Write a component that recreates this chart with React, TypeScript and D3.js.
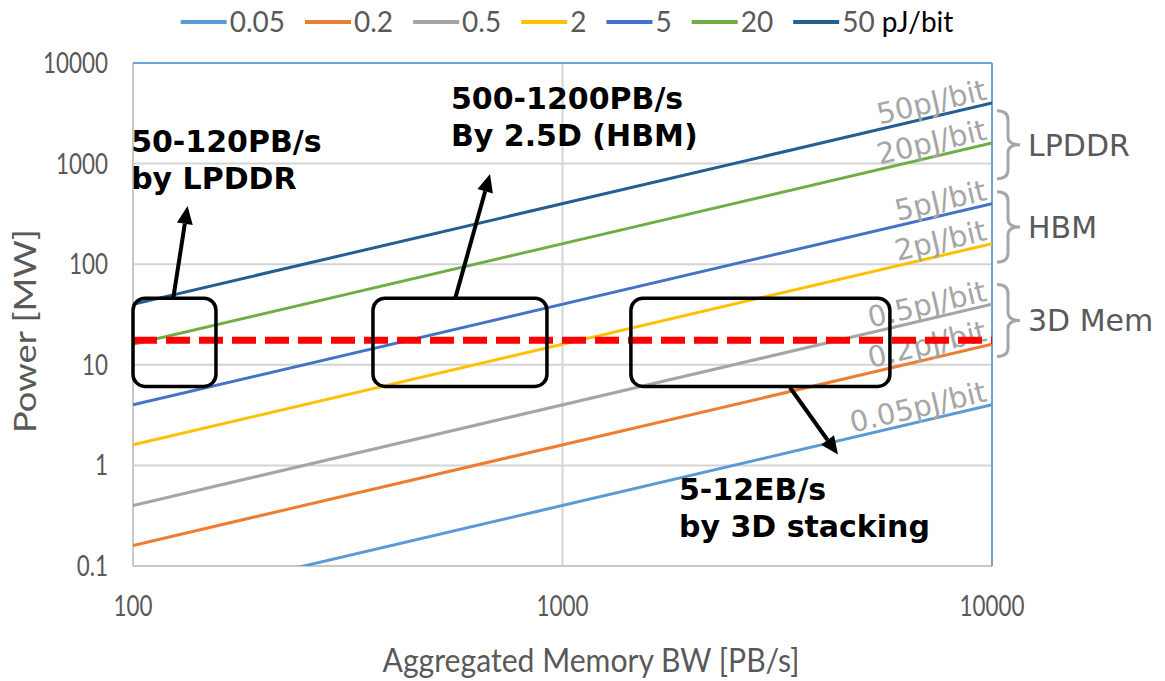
import { useEffect, useRef } from 'react'
import * as d3 from 'd3'

const W = 1165
const H = 681

// energy per bit series, power [MW] read at both ends of the BW axis
const bwEnds = [100, 10000]
const seriesNames = ['0.05', '0.2', '0.5', '2', '5', '20', '50']
const seriesColors = ['#5b9bd5', '#ed7d31', '#a5a5a5', '#ffc000', '#4472c4', '#70ad47', '#255e91']
const powerAtStart = [0.04, 0.16, 0.4, 1.6, 4, 16, 40]
const powerAtEnd = [4, 16, 40, 160, 400, 1600, 4000]
const lineLabels = ['0.05pJ/bit', '0.2pJ/bit', '0.5pJ/bit', '2pJ/bit', '5pJ/bit', '20pJ/bit', '50pJ/bit']

const xTicks = [100, 1000, 10000]
const yTicks = [0.1, 1, 10, 100, 1000, 10000]
const powerBudget = 17.5

// highlighted regions
const boxBW0 = [100, 362, 1443]
const boxBW1 = [156, 920, 5785]
const boxP0 = [6.1, 6.1, 6.1]
const boxP1 = [46, 46, 46]

const arrowFromBW = [124, 562, 3386]
const arrowFromP = [45, 45, 5.95]
const arrowToBW = [134, 678, 4380]
const arrowToP = [379, 790, 1.28]

const noteLines = [['50-120PB/s', 'by LPDDR'], ['500-1200PB/s', 'By 2.5D (HBM)'], ['5-12EB/s', 'by 3D stacking']]
const noteBW = [99, 550, 1867]
const noteP = [1312, 3516, 0.455]

const groupNames = ['LPDDR', 'HBM', '3D Mem']
const groupTop = [3357, 524, 63]
const groupBottom = [705, 105, 12.1]

const HUMAN = "Lato, 'Open Sans', sans-serif"
const MEIRYO = "'DejaVu Sans', Verdana, sans-serif"
const GRAY = '#595959'

export default function App() {
    const svgRef = useRef<SVGSVGElement>(null)

    useEffect(() => {
        const svg = d3.select(svgRef.current)
        svg.selectAll('*').remove()

        const x = d3.scaleLog().domain([100, 10000]).range([133, 992])
        const y = d3.scaleLog().domain([0.1, 10000]).range([566, 63])

        svg.append('rect').attr('width', W).attr('height', H).attr('fill', '#fff')

        svg.append('defs').append('clipPath').attr('id', 'plot-clip')
            .append('rect')
            .attr('x', x(100)).attr('y', y(10000))
            .attr('width', x(10000) - x(100)).attr('height', y(0.1) - y(10000))

        // grid
        const grid = svg.append('g')
        grid.selectAll('.hgrid')
            .data(yTicks.slice(1, -1))
            .enter().append('line')
            .attr('x1', x(100)).attr('x2', x(10000))
            .attr('y1', d => y(d)).attr('y2', d => y(d))
            .attr('stroke', '#d4d4d4').attr('stroke-width', 2)
        grid.append('line')
            .attr('x1', x(1000)).attr('x2', x(1000))
            .attr('y1', y(0.1)).attr('y2', y(10000))
            .attr('stroke', '#d4d4d4').attr('stroke-width', 2)

        // frame
        grid.append('line')
            .attr('x1', x(100)).attr('x2', x(100)).attr('y1', y(0.1)).attr('y2', y(10000))
            .attr('stroke', '#c8c8c8').attr('stroke-width', 2)
        grid.append('line')
            .attr('x1', x(100)).attr('x2', x(10000)).attr('y1', y(0.1)).attr('y2', y(0.1))
            .attr('stroke', '#c8c8c8').attr('stroke-width', 2)
        grid.append('line')
            .attr('x1', x(100)).attr('x2', x(10000)).attr('y1', y(10000)).attr('y2', y(10000))
            .attr('stroke', '#6fa3d6').attr('stroke-width', 2)
        grid.append('line')
            .attr('x1', x(10000)).attr('x2', x(10000)).attr('y1', y(0.1)).attr('y2', y(10000))
            .attr('stroke', '#6fa3d6').attr('stroke-width', 2)

        // tick labels (condensed like the original)
        svg.append('g').selectAll('text')
            .data(yTicks)
            .enter().append('text')
            .attr('transform', d => `translate(108,${y(d)}) scale(0.8,1)`)
            .attr('dy', '0.36em')
            .attr('text-anchor', 'end')
            .style('font-family', HUMAN).style('font-size', '28px').attr('fill', GRAY)
            .text(d => String(d))
        svg.append('g').selectAll('text')
            .data(xTicks)
            .enter().append('text')
            .attr('transform', d => `translate(${x(d)},616) scale(0.8,1)`)
            .attr('text-anchor', 'middle')
            .style('font-family', HUMAN).style('font-size', '28px').attr('fill', GRAY)
            .text(d => String(d))

        // axis titles
        svg.append('text')
            .attr('x', 591).attr('y', 672)
            .attr('text-anchor', 'middle')
            .attr('textLength', 417).attr('lengthAdjust', 'spacingAndGlyphs')
            .style('font-family', HUMAN).style('font-size', '33px').attr('fill', GRAY)
            .text('Aggregated Memory BW [PB/s]')
        svg.append('text')
            .attr('transform', 'translate(36,331) rotate(-90)')
            .attr('text-anchor', 'middle')
            .attr('textLength', 204).attr('lengthAdjust', 'spacingAndGlyphs')
            .style('font-family', HUMAN).style('font-size', '31px').attr('fill', GRAY)
            .text('Power [MW]')

        // series lines
        const line = d3.line<[number, number]>().x(d => x(d[0])).y(d => y(d[1]))
        const plot = svg.append('g').attr('clip-path', 'url(#plot-clip)')
        seriesNames.forEach((_, i) => {
            plot.append('path')
                .datum([[bwEnds[0], powerAtStart[i]], [bwEnds[1], powerAtEnd[i]]] as [number, number][])
                .attr('fill', 'none')
                .attr('stroke', seriesColors[i])
                .attr('stroke-width', 3)
                .attr('d', line)
        })

        // series labels along the lines
        seriesNames.forEach((_, i) => {
            const x0 = x(bwEnds[0]), y0 = y(powerAtStart[i])
            const x1 = x(bwEnds[1]), y1 = y(powerAtEnd[i])
            const ang = Math.atan2(y1 - y0, x1 - x0)
            const deg = ang * 180 / Math.PI
            const off = 4
            const px = x1 - 3 + off * Math.sin(ang)
            const py = y1 - off * Math.cos(ang)
            svg.append('text')
                .attr('transform', `translate(${px},${py}) rotate(${deg})`)
                .attr('text-anchor', 'end')
                .style('font-family', MEIRYO).style('font-size', '29px').attr('fill', '#a6a6a6')
                .text(lineLabels[i])
        })

        // power budget
        svg.append('path')
            .datum([[bwEnds[0], powerBudget], [bwEnds[1], powerBudget]] as [number, number][])
            .attr('fill', 'none')
            .attr('stroke', '#ff0000')
            .attr('stroke-width', 7)
            .attr('stroke-dasharray', '24 9')
            .attr('d', line)

        // boxes
        boxBW0.forEach((_, i) => {
            svg.append('rect')
                .attr('x', x(boxBW0[i])).attr('y', y(boxP1[i]))
                .attr('width', x(boxBW1[i]) - x(boxBW0[i]))
                .attr('height', y(boxP0[i]) - y(boxP1[i]))
                .attr('rx', 12).attr('ry', 12)
                .attr('fill', 'none').attr('stroke', '#000').attr('stroke-width', 3.5)
        })

        // arrows
        arrowFromBW.forEach((_, i) => {
            const ax = x(arrowFromBW[i]), ay = y(arrowFromP[i])
            const bx = x(arrowToBW[i]), by = y(arrowToP[i])
            const ang = Math.atan2(by - ay, bx - ax)
            const headL = 18, headW = 8
            const cx = bx - headL * Math.cos(ang), cy = by - headL * Math.sin(ang)
            svg.append('line')
                .attr('x1', ax).attr('y1', ay).attr('x2', cx).attr('y2', cy)
                .attr('stroke', '#000').attr('stroke-width', 4)
            const nx = -Math.sin(ang), ny = Math.cos(ang)
            svg.append('path')
                .attr('d', `M${bx},${by}L${cx + nx * headW},${cy + ny * headW}L${cx - nx * headW},${cy - ny * headW}Z`)
                .attr('fill', '#000')
        })

        // notes
        noteLines.forEach((lines, i) => {
            const t = svg.append('text')
                .attr('x', x(noteBW[i])).attr('y', y(noteP[i]))
                .style('font-family', MEIRYO).style('font-size', '30px').style('font-weight', 'bold')
                .attr('fill', '#000')
            lines.forEach((s, j) => {
                t.append('tspan').attr('x', x(noteBW[i])).attr('dy', j === 0 ? 0 : 37).text(s)
            })
        })

        // braces and memory groups
        groupNames.forEach((name, i) => {
            const top = y(groupTop[i]) , bot = y(groupBottom[i])
            const mid = (top + bot) / 2
            const bx = x(10000) + 5, vx = bx + 11, tx = vx + 12
            const p = d3.path()
            p.moveTo(bx, top)
            p.quadraticCurveTo(vx, top, vx, top + 9)
            p.lineTo(vx, mid - 8)
            p.quadraticCurveTo(vx, mid, tx, mid)
            p.quadraticCurveTo(vx, mid, vx, mid + 8)
            p.lineTo(vx, bot - 9)
            p.quadraticCurveTo(vx, bot, bx, bot)
            svg.append('path').attr('d', p.toString())
                .attr('fill', 'none').attr('stroke', '#a6a6a6').attr('stroke-width', 3)
            svg.append('text')
                .attr('x', tx + 8).attr('y', mid + 11)
                .style('font-family', MEIRYO).style('font-size', '30px').attr('fill', GRAY)
                .text(name)
        })

        // legend
        const legend = svg.append('g')
        let cursor = 0
        seriesNames.forEach((name, i) => {
            const item = legend.append('g').attr('transform', `translate(${cursor},0)`)
            item.append('line')
                .attr('x1', 0).attr('x2', 46).attr('y1', 22).attr('y2', 22)
                .attr('stroke', seriesColors[i]).attr('stroke-width', 4)
            const t = item.append('text')
                .attr('x', 49).attr('y', 32)
                .style('font-family', HUMAN).style('font-size', '28px').attr('fill', GRAY)
                .text(name)
            if (i === seriesNames.length - 1) {
                t.append('tspan').attr('fill', '#000').text(' pJ/bit')
            }
            const tw = (t.node() as SVGTextElement).getComputedTextLength()
            cursor += 49 + tw + 20
        })
        const total = cursor - 20
        legend.attr('transform', `translate(${567 - total / 2},0)`)
    }, [])

    return (
        <svg
            ref={svgRef}
            width={W}
            height={H}
            style={{ position: 'absolute', left: 0, top: 0 }}
        />
    )
}
